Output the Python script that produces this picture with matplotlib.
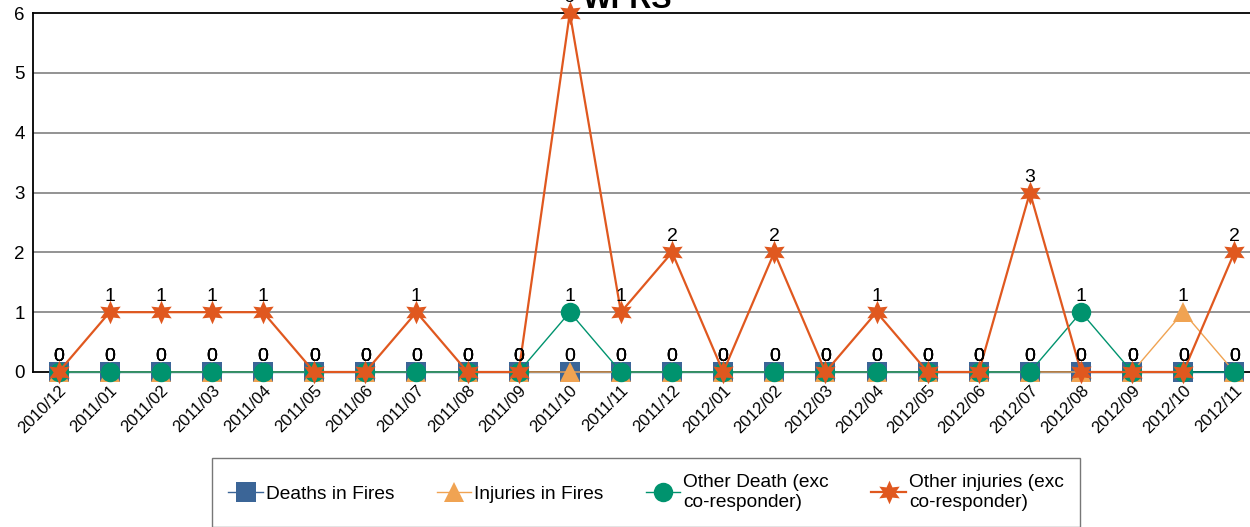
import matplotlib
matplotlib.use("Agg")
import matplotlib.pyplot as plt
from matplotlib.lines import Line2D

plt.rcParams["font.family"] = ["Liberation Sans", "DejaVu Sans"]

months = ["2010/12", "2011/01", "2011/02", "2011/03", "2011/04", "2011/05",
          "2011/06", "2011/07", "2011/08", "2011/09", "2011/10", "2011/11",
          "2011/12", "2012/01", "2012/02", "2012/03", "2012/04", "2012/05",
          "2012/06", "2012/07", "2012/08", "2012/09", "2012/10", "2012/11"]
deaths_fires = [0] * 24
injuries_fires = [0, 0, 0, 0, 0, 0, 0, 0, 0, 0, 0, 0,
                  0, 0, 0, 0, 0, 0, 0, 0, 0, 0, 1, 0]
other_death = [0, 0, 0, 0, 0, 0, 0, 0, 0, 0, 1, 0,
               0, 0, 0, 0, 0, 0, 0, 0, 1, 0, 0, 0]
other_injuries = [0, 1, 1, 1, 1, 0, 0, 1, 0, 0, 6, 1,
                  2, 0, 2, 0, 1, 0, 0, 3, 0, 0, 0, 2]

BLUE = "#3b6597"
ORANGE = "#f0a352"
GREEN = "#00936e"
RED = "#e0581f"

W, H = 1250, 527
fig = plt.figure(figsize=(W / 100, H / 100), dpi=100)
ax = fig.add_axes([33 / W, 1 - 372 / H, 1227 / W, 359 / H])

x = list(range(len(months)))
series = [
    ("Deaths in Fires", deaths_fires, BLUE, "s", 14, 1.0),
    ("Injuries in Fires", injuries_fires, ORANGE, "^", 14, 1.0),
    ("Other Death (exc\nco-responder)", other_death, GREEN, "o", 14, 1.0),
    ("Other injuries (exc\nco-responder)", other_injuries, RED, (6, 1, 0), 17, 1.6),
]

handles = []
for i, (name, vals, col, mk, ms, lw) in enumerate(series):
    ax.plot(x, vals, color=col, lw=lw, marker=mk, markersize=ms,
            markeredgewidth=0, zorder=3 + i, clip_on=False)
    handles.append(Line2D([], [], color=col, lw=lw, marker=mk,
                          markersize=ms, markeredgewidth=0))
    for xi, v in zip(x, vals):
        ax.annotate(str(v), (xi, v), xytext=(0, 5), textcoords="offset points",
                    ha="center", va="bottom", fontsize=14, color="black",
                    zorder=10, annotation_clip=False)

ax.set_xlim(-0.5, 23.5)
ax.set_ylim(0, 6)
ax.set_yticks(range(7))
ax.set_yticklabels([str(i) for i in range(7)], fontsize=13.5)
ax.set_xticks(x)
ax.set_xticklabels(months, rotation=45, ha="right", rotation_mode="anchor",
                   fontsize=12)
ax.tick_params(axis="both", length=0, pad=6)
ax.tick_params(axis="x", pad=8)
for yv in range(1, 6):
    ax.axhline(yv, color="#808080", lw=1.2, zorder=1)
for s in ["left", "top", "bottom"]:
    ax.spines[s].set_color("black")
    ax.spines[s].set_linewidth(1.3)
ax.spines["right"].set_visible(False)

fig.text(628 / W, 1 - 8 / H, "WFRS", ha="center", va="baseline",
         fontsize=22, fontweight="bold")

leg = fig.legend(handles, [s[0] for s in series], loc="upper left",
                 bbox_to_anchor=(212 / W, 1 - 458 / H - 0.3, 868 / W, 0.3),
                 mode="expand", ncol=4, fontsize=13.8, frameon=True,
                 fancybox=False, edgecolor="#555555", handlelength=1.8,
                 handletextpad=0.15, borderpad=0.85, labelspacing=0.3,
                 borderaxespad=0)
leg.get_frame().set_linewidth(1.0)
for t in leg.get_texts():
    t.set_linespacing(1.2)

fig.savefig("out.png", dpi=100)
